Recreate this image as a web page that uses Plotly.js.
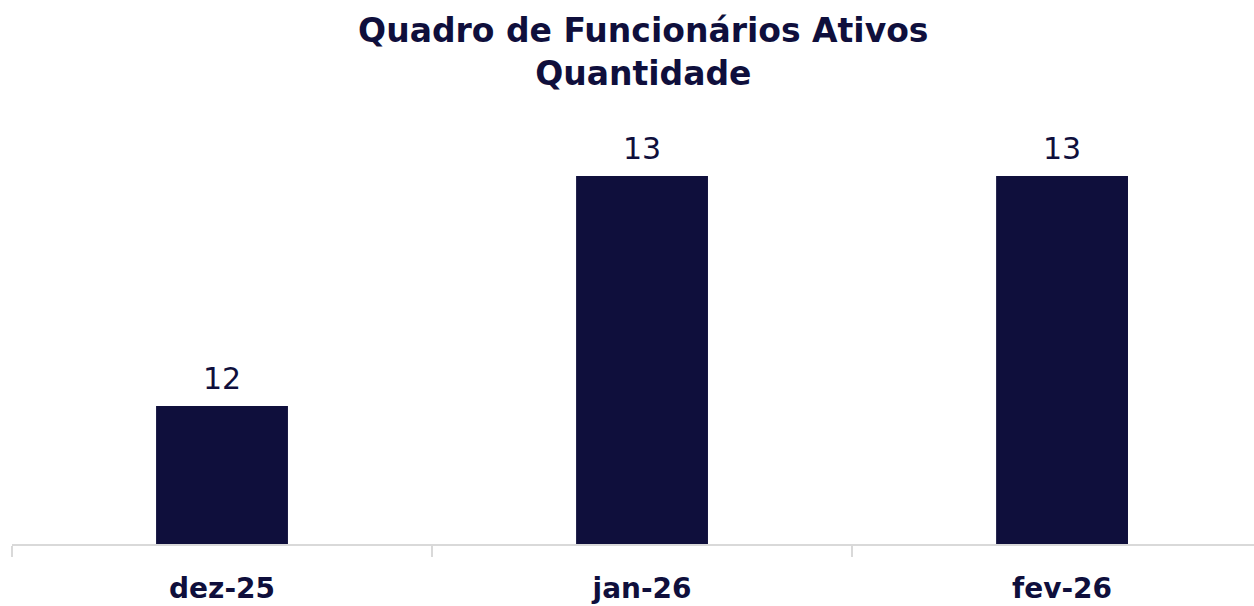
<!DOCTYPE html>
<html>
<head>
<meta charset="utf-8">
<script src="https://cdn.plot.ly/plotly-3.0.1.min.js"></script>
<style>
  html, body { margin: 0; padding: 0; background: #fff; }
  #vis { width: 1254px; height: 606px; }
</style>
</head>
<body>
<div id="vis"></div>
<script>
const months = ['dez-25', 'jan-26', 'fev-26']
const headcount = [12, 13, 13]

const navy = '#0f0f3c'
const fontFamily = '"DejaVu Sans", "Open Sans", sans-serif'

const traces = [
  {
    type: 'bar',
    x: months,
    y: headcount,
    width: 0.314,
    marker: { color: navy },
    hoverinfo: 'x+y'
  }
]

// value labels above each bar
const labels = months.map((m, i) => ({
  x: m,
  y: headcount[i],
  xref: 'x',
  yref: 'y',
  text: String(headcount[i]),
  showarrow: false,
  yanchor: 'bottom',
  yshift: 8,
  font: { family: fontFamily, size: 30, color: navy }
}))

const layout = {
  width: 1254,
  height: 606,
  margin: { l: 12, r: 0, t: 110, b: 62 },
  paper_bgcolor: '#ffffff',
  plot_bgcolor: '#ffffff',
  showlegend: false,
  font: { family: fontFamily, color: navy },
  title: {
    text: 'Quadro de Funcionários Ativos<br>Quantidade',
    x: 0.513,
    xanchor: 'center',
    yref: 'container',
    y: 0.93,
    yanchor: 'top',
    font: { family: fontFamily, size: 33, color: navy, weight: 'bold' }
  },
  annotations: labels,
  xaxis: {
    type: 'category',
    range: [-0.5, 2.457],
    showline: true,
    linecolor: '#d9d9d9',
    linewidth: 2,
    ticks: 'outside',
    tickson: 'boundaries',
    ticklen: 11,
    tickwidth: 2,
    tickcolor: '#d9d9d9',
    ticklabelstandoff: 18,
    tickfont: { family: fontFamily, size: 28, color: navy, weight: 'bold' },
    showgrid: false,
    zeroline: false,
    fixedrange: true
  },
  yaxis: {
    range: [11.4, 13.287],
    visible: false,
    showgrid: false,
    zeroline: false,
    fixedrange: true
  },
  bargap: 0.686
}

Plotly.newPlot('vis', traces, layout, { displayModeBar: false, staticPlot: true })
</script>
</body>
</html>
